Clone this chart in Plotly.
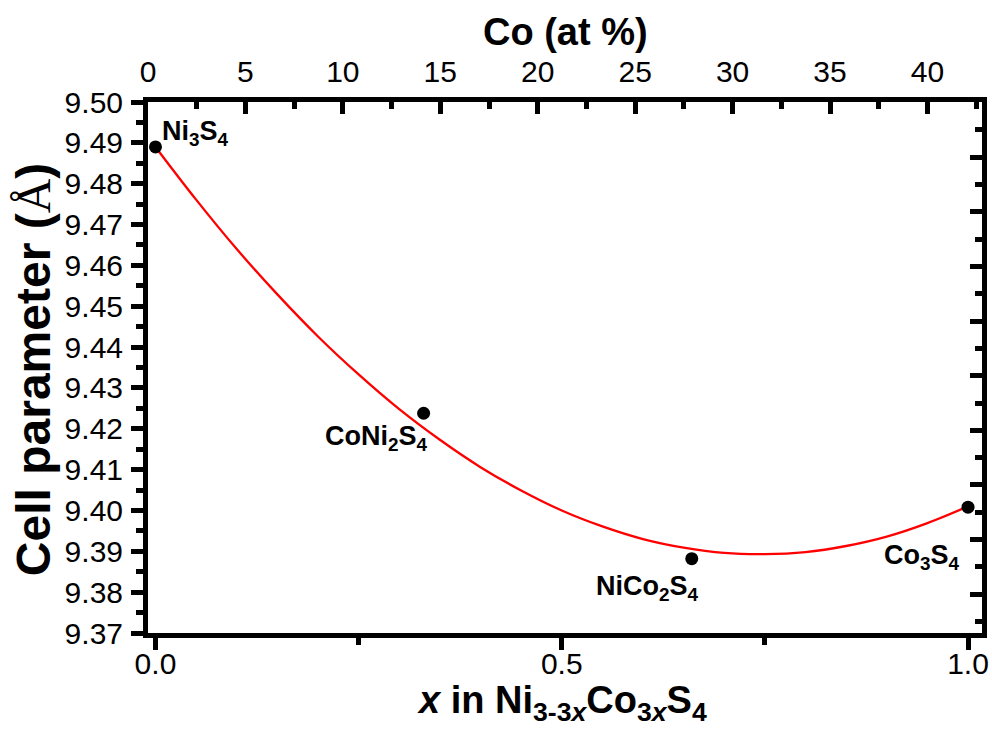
import plotly.graph_objects as go

# Data points (x in Ni3-3xCo3xS4, cell parameter in Å)
x_pts = [0.0, 0.33, 0.66, 1.0]
y_pts = [9.489, 9.4238, 9.3882, 9.4008]
pt_labels = ["Ni<sub>3</sub>S<sub>4</sub>", "CoNi<sub>2</sub>S<sub>4</sub>",
             "NiCo<sub>2</sub>S<sub>4</sub>", "Co<sub>3</sub>S<sub>4</sub>"]
label_x = [0.005, 0.272, 0.606, 0.943]
label_y = [9.4924, 9.4178, 9.3811, 9.3887]
label_anchor = ["left", "center", "center", "center"]

# Red fit curve
x_fit = [0.0, 0.05, 0.1, 0.15, 0.2, 0.25, 0.3, 0.35, 0.4, 0.45, 0.5,
         0.55, 0.6, 0.65, 0.7, 0.75, 0.8, 0.85, 0.9, 0.95, 1.0]
y_fit = [9.4890, 9.4761, 9.4640, 9.4529, 9.4426, 9.4333, 9.4248, 9.4173,
         9.4106, 9.4049, 9.4000, 9.3961, 9.3930, 9.3909, 9.3896, 9.3893,
         9.3898, 9.3913, 9.3936, 9.3969, 9.4010]

y_ticks = [9.37, 9.38, 9.39, 9.40, 9.41, 9.42, 9.43, 9.44, 9.45, 9.46, 9.47, 9.48, 9.49, 9.50]
x_ticks = [0.0, 0.5, 1.0]
x_ticktext = ["0.0", "0.5", "1.0"]
top_ticks = [0, 5, 10, 15, 20, 25, 30, 35, 40]

FONT = "Liberation Sans, Arial, sans-serif"

fig = go.Figure()
fig.add_trace(go.Scatter(x=x_fit, y=y_fit, mode="lines",
                         line=dict(color="#ff0000", width=2.3, shape="spline"),
                         showlegend=False, hoverinfo="skip"))
fig.add_trace(go.Scatter(x=x_pts, y=y_pts, mode="markers",
                         marker=dict(color="black", size=13),
                         showlegend=False))
# helper traces to register the top and right axes
fig.add_trace(go.Scatter(x=[None], y=[None], xaxis="x2", yaxis="y",
                         showlegend=False, hoverinfo="skip"))
fig.add_trace(go.Scatter(x=[None], y=[None], xaxis="x", yaxis="y3",
                         showlegend=False, hoverinfo="skip"))

axis_common = dict(showline=True, linecolor="black", linewidth=5,
                   showgrid=False, zeroline=False, tickcolor="black",
                   automargin=False,
                   tickfont=dict(family=FONT, size=30, color="black"))

fig.update_layout(
    width=992, height=753,
    margin=dict(l=148, r=10, t=102, b=120),
    paper_bgcolor="white", plot_bgcolor="white",
    xaxis=dict(range=[-0.0092, 1.0172], tickvals=x_ticks, ticktext=x_ticktext,
               ticks="outside", ticklen=12, tickwidth=5,
               minor=dict(dtick=0.25, tick0=0, ticks="outside", ticklen=7,
                          tickwidth=5, tickcolor="black"),
               ticklabelstandoff=-12,
               **axis_common),
    xaxis2=dict(range=[0, 42.8], overlaying="x", side="top", tickvals=top_ticks,
                ticks="inside", ticklen=12, tickwidth=5,
                minor=dict(dtick=2.5, tick0=0, ticks="inside", ticklen=7,
                           tickwidth=5, tickcolor="black"),
                ticklabelstandoff=3,
                **axis_common),
    yaxis=dict(range=[9.37, 9.50], tickvals=y_ticks, tickformat=".2f",
               ticks="outside", ticklen=12, tickwidth=5,
               minor=dict(dtick=0.005, tick0=9.37, ticks="outside", ticklen=7,
                          tickwidth=5, tickcolor="black"),
               ticklabelstandoff=2,
               **axis_common),
    yaxis3=dict(range=[0.29, 10.01], overlaying="y", side="right",
                dtick=1, tick0=0, showticklabels=False,
                ticks="inside", ticklen=12, tickwidth=5,
                minor=dict(dtick=0.5, tick0=0, ticks="inside", ticklen=7,
                           tickwidth=5, tickcolor="black"),
                showline=True, linecolor="black", linewidth=5, automargin=False,
                showgrid=False, zeroline=False, tickcolor="black"),
)

for t, lx, ly, anc in zip(pt_labels, label_x, label_y, label_anchor):
    fig.add_annotation(x=lx, y=ly, xref="x", yref="y", text="<b>" + t + "</b>",
                       showarrow=False, xanchor=anc, yanchor="middle",
                       font=dict(family=FONT, size=27, color="black"))

title_font = dict(family=FONT, size=38, color="black")
fig.add_annotation(x=0.496, y=0, xref="paper", yref="paper", yshift=-70,
                   text="<b><i>x</i> in Ni<sub>3-3<i>x</i></sub>Co<sub>3<i>x</i></sub>S<sub>4</sub></b>",
                   showarrow=False, xanchor="center", yanchor="middle", font=title_font)
fig.add_annotation(x=0.501, y=1, xref="paper", yref="paper", yshift=70,
                   text="<b>Co (at %)</b>",
                   showarrow=False, xanchor="center", yanchor="middle", font=title_font)
fig.add_annotation(x=0, y=0.495, xref="paper", yref="paper", xshift=-115,
                   text="<b>Cell parameter (</b><span style='font-family:Liberation Serif'>Å</span><b>)</b>",
                   textangle=-90,
                   showarrow=False, xanchor="center", yanchor="middle",
                   font=dict(family=FONT, size=48, color="black"))

fig.write_html("out.html")
